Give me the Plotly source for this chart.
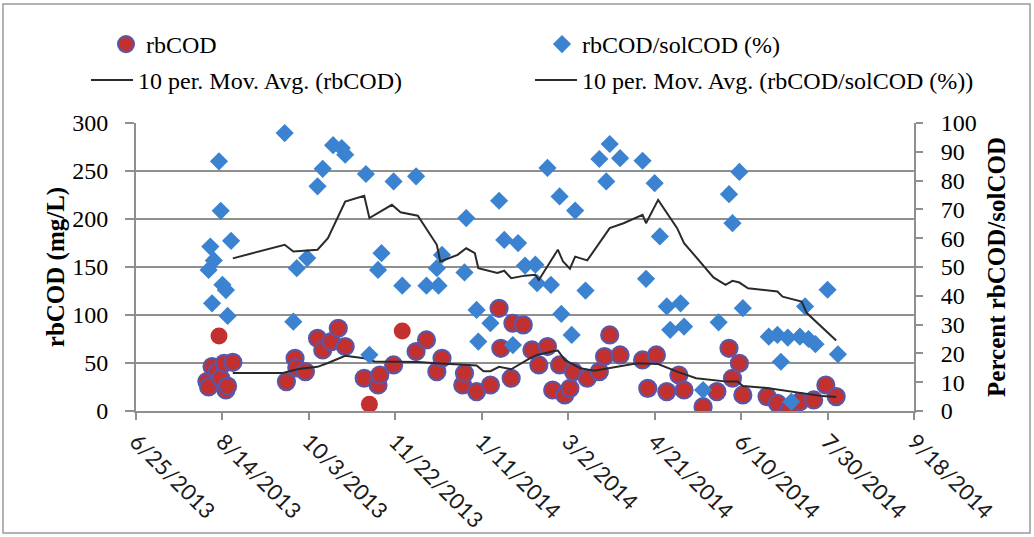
import plotly.graph_objects as go

# ---------------- data ----------------
rb_dates = ["2013-08-05","2013-08-06","2013-08-08","2013-08-11","2013-08-12","2013-08-13","2013-08-15","2013-08-16","2013-08-17","2013-08-20",
            "2013-09-20","2013-09-25","2013-09-26","2013-10-01","2013-10-08","2013-10-11","2013-10-16","2013-10-20","2013-10-24",
            "2013-11-04","2013-11-07","2013-11-12","2013-11-13","2013-11-21","2013-11-26","2013-12-04","2013-12-10","2013-12-16","2013-12-19",
            "2013-12-31","2014-01-01","2014-01-08","2014-01-16","2014-01-21","2014-01-22","2014-01-28","2014-01-29",
            "2014-02-04","2014-02-09","2014-02-13","2014-02-18","2014-02-21","2014-02-25","2014-02-28",
            "2014-03-03","2014-03-05","2014-03-13","2014-03-20","2014-03-23","2014-03-26",
            "2014-04-01","2014-04-14","2014-04-17","2014-04-22","2014-04-28","2014-05-05","2014-05-08","2014-05-19","2014-05-27",
            "2014-06-03","2014-06-05","2014-06-09","2014-06-11","2014-06-25","2014-07-01","2014-07-08","2014-07-14","2014-07-22","2014-07-29","2014-08-04"]
rb_values = [30.6,25.0,46.2,41.0,78.2,34.1,49.7,21.9,26.0,50.7,
             30.6,54.9,45.0,41.0,75.8,63.6,72.3,86.2,67.1,
             34.1,7.0,27.1,37.5,48.0,83.4,61.9,74.0,41.0,54.9,
             27.1,39.3,20.2,27.1,107.0,65.3,34.1,91.4,
             89.7,63.6,48.0,67.1,21.9,48.0,16.7,
             23.6,41.0,34.1,41.0,56.7,79.2,
             58.4,53.2,23.6,58.4,20.2,37.5,21.9,4.5,20.2,
             65.3,34.1,49.7,16.7,15.0,8.0,2.8,9.7,11.5,27.1,15.0]
# points drawn without the bluish halo
rb_plain = ["2013-08-12","2013-11-07","2013-11-26"]

pct_dates = ["2013-08-06","2013-08-07","2013-08-08","2013-08-09","2013-08-12","2013-08-13","2013-08-14","2013-08-16","2013-08-17","2013-08-19",
             "2013-09-19","2013-09-24","2013-09-26","2013-10-02","2013-10-08","2013-10-11","2013-10-17","2013-10-22","2013-10-24",
             "2013-11-05","2013-11-07","2013-11-12","2013-11-14","2013-11-21","2013-11-26","2013-12-04","2013-12-10","2013-12-16","2013-12-17","2013-12-19",
             "2014-01-01","2014-01-02","2014-01-08","2014-01-09","2014-01-16","2014-01-21","2014-01-24","2014-01-29",
             "2014-02-01","2014-02-05","2014-02-11","2014-02-12","2014-02-18","2014-02-20","2014-02-25","2014-02-26",
             "2014-03-04","2014-03-06","2014-03-12","2014-03-20","2014-03-24","2014-03-26",
             "2014-04-01","2014-04-14","2014-04-16","2014-04-21","2014-04-24","2014-04-28","2014-04-30",
             "2014-05-06","2014-05-08","2014-05-19","2014-05-28",
             "2014-06-03","2014-06-05","2014-06-09","2014-06-11","2014-06-26",
             "2014-07-01","2014-07-03","2014-07-07","2014-07-09","2014-07-14","2014-07-17","2014-07-19","2014-07-23","2014-07-30","2014-08-05"]
pct_values = [49.0,57.1,37.4,52.3,86.7,69.5,43.8,42.0,33.0,59.1,
              96.5,31.0,49.6,53.1,78.0,84.1,92.3,91.3,89.0,
              82.3,19.5,49.0,54.8,79.7,43.5,81.5,43.5,49.6,43.5,54.2,
              48.1,67.0,35.1,24.1,30.5,73.0,59.4,22.9,
              58.3,50.5,50.8,44.4,84.4,43.8,74.5,33.7,
              26.4,69.6,41.8,87.5,79.7,92.7,
              87.8,86.9,45.9,79.1,60.6,36.3,28.2,
              37.4,29.3,7.3,30.8,
              75.3,65.2,83.0,35.7,25.8,
              26.4,17.1,25.5,3.2,25.8,36.3,25.0,23.2,42.1,19.7]

# 10-period moving averages
rb_ma_dates = ["2013-08-20","2013-09-18","2013-09-24","2013-09-28","2013-10-08","2013-10-14","2013-10-24","2013-11-04","2013-11-10",
               "2013-11-23","2013-12-05","2013-12-16","2014-01-01","2014-01-08","2014-01-12","2014-01-16","2014-01-21","2014-01-28",
               "2014-02-08","2014-02-12","2014-02-22","2014-02-24","2014-02-28","2014-03-09","2014-03-17","2014-03-30","2014-04-11",
               "2014-04-23","2014-05-04","2014-05-15","2014-05-25","2014-06-02","2014-06-08","2014-06-11","2014-06-25","2014-07-16",
               "2014-07-27","2014-08-04"]
rb_ma_values = [39.5,39.5,42.5,44.0,46.0,50.0,57.5,55.0,51.5,
                51.5,51.0,49.7,48.0,47.5,41.5,41.5,46.0,43.5,
                55.0,58.4,62.5,63.0,53.2,44.5,42.0,46.0,49.7,
                49.0,41.0,34.1,32.0,30.6,30.6,26.0,24.0,18.4,
                15.5,14.5]

pct_ma_dates = ["2013-08-20","2013-09-19","2013-09-24","2013-10-08","2013-10-14","2013-10-19","2013-10-24","2013-11-04","2013-11-07",
                "2013-11-20","2013-11-25","2013-12-05","2013-12-12","2013-12-16","2013-12-18","2013-12-28","2014-01-02","2014-01-07",
                "2014-01-09","2014-01-20","2014-01-24","2014-01-28","2014-02-05","2014-02-11","2014-02-13","2014-02-18","2014-02-24",
                "2014-02-27","2014-03-03","2014-03-06","2014-03-13","2014-03-26","2014-04-03","2014-04-14","2014-04-16","2014-04-23",
                "2014-05-04","2014-05-08","2014-05-17","2014-05-25","2014-06-01","2014-06-05","2014-06-09","2014-06-14","2014-07-01",
                "2014-07-04","2014-07-15","2014-07-18","2014-08-04"]
pct_ma_values = [53.0,57.7,55.4,56.0,60.0,66.4,72.7,74.7,67.0,
                 71.6,69.0,67.8,61.2,57.7,51.9,54.2,56.5,54.8,
                 49.6,47.9,48.7,46.1,47.0,47.3,45.5,50.2,56.0,
                 51.9,49.4,53.6,52.3,63.5,65.2,68.1,65.2,73.3,
                 63.5,58.3,51.9,46.4,43.8,45.2,44.6,42.6,41.5,
                 39.7,38.0,34.0,24.5]

x_tick_start = "2013-06-25"
x_range = ["2013-06-25", "2014-09-18"]

# ---------------- styling ----------------
RED = "#C2302F"
HALO = "#5B57A6"
BLUE = "#3B83D1"
LINE = "#2a2a2a"
GRID = "#8f8f8f"
SERIF = "Liberation Serif"
SANS = "Lato"

W, H = 1034, 537
L, R, T, B = 136, 120, 123, 126

halo_w = [0 if d in rb_plain else 2.2 for d in rb_dates]

fig = go.Figure()
fig.add_trace(go.Scatter(
    x=rb_dates, y=rb_values, mode="markers", name="rbCOD",
    marker=dict(symbol="circle", size=17, color=RED, line=dict(color=HALO, width=halo_w)),
    legend="legend", yaxis="y"))
fig.add_trace(go.Scatter(
    x=pct_dates, y=pct_values, mode="markers", name="rbCOD/solCOD (%)",
    marker=dict(symbol="diamond", size=14, color=BLUE, line=dict(width=0)),
    legend="legend2", yaxis="y2"))
fig.add_trace(go.Scatter(
    x=rb_ma_dates, y=rb_ma_values, mode="lines", name="10 per. Mov. Avg. (rbCOD)",
    line=dict(color=LINE, width=2), legend="legend3", yaxis="y"))
fig.add_trace(go.Scatter(
    x=pct_ma_dates, y=pct_ma_values, mode="lines", name="10 per. Mov. Avg. (rbCOD/solCOD (%))",
    line=dict(color=LINE, width=2), legend="legend4", yaxis="y2"))


def legend_at(px_x, px_y, itemwidth=30):
    return dict(
        orientation="h", xref="container", yref="container", xanchor="left", yanchor="top",
        x=px_x / W, y=1 - px_y / H, itemwidth=itemwidth,
        font=dict(family=SERIF, size=24, color="black"), bgcolor="rgba(0,0,0,0)")


fig.update_layout(
    width=W, height=H,
    margin=dict(l=L, r=R, t=T, b=B, autoexpand=False),
    paper_bgcolor="white", plot_bgcolor="white",
    showlegend=True,
    legend=legend_at(106, 22),
    legend2=legend_at(542, 22),
    legend3=legend_at(86, 58, itemwidth=42),
    legend4=legend_at(530, 58, itemwidth=42),
    xaxis=dict(
        type="date", range=x_range, tick0=x_tick_start, dtick=50 * 86400000,
        tickformat="%-m/%-d/%Y", tickangle=45,
        tickfont=dict(family=SANS, size=22, color="#1a1a1a"),
        showgrid=False, zeroline=False,
        showline=True, linecolor=GRID, linewidth=2,
        ticks="outside", ticklen=7, tickcolor=GRID, tickwidth=1.5),
    yaxis=dict(
        range=[0, 300], dtick=50, showgrid=True, gridcolor=GRID, gridwidth=2,
        zeroline=False, showline=True, linecolor=GRID, linewidth=2,
        ticks="outside", ticklen=9, tickcolor=GRID, tickwidth=1.5, ticklabelstandoff=12,
        tickfont=dict(family=SERIF, size=24, color="black"),
        title=dict(text="rbCOD (mg/L)", font=dict(family=SERIF, size=25, color="black", weight="bold"), standoff=0)),
    yaxis2=dict(
        overlaying="y", side="right", range=[0, 100], dtick=10, showgrid=False, zeroline=False,
        showline=True, linecolor=GRID, linewidth=2,
        ticks="outside", ticklen=7, tickcolor=GRID, tickwidth=1.5, ticklabelstandoff=13,
        tickfont=dict(family=SERIF, size=24, color="black"),
        title=dict(text="Percent rbCOD/solCOD", font=dict(family=SERIF, size=25, color="black", weight="bold"), standoff=12)),
)

# chart-area border
fig.add_shape(type="rect", xref="paper", yref="paper",
              x0=(3 - L) / (W - L - R), x1=(1030 - L) / (W - L - R),
              y0=(H - B - 533) / (H - T - B), y1=(H - B - 4) / (H - T - B),
              line=dict(color="#9a9a9a", width=1.5), fillcolor="rgba(0,0,0,0)", layer="below")

fig.write_html("out.html", post_script="document.body.style.margin='0';",
               config={"displayModeBar": False})
